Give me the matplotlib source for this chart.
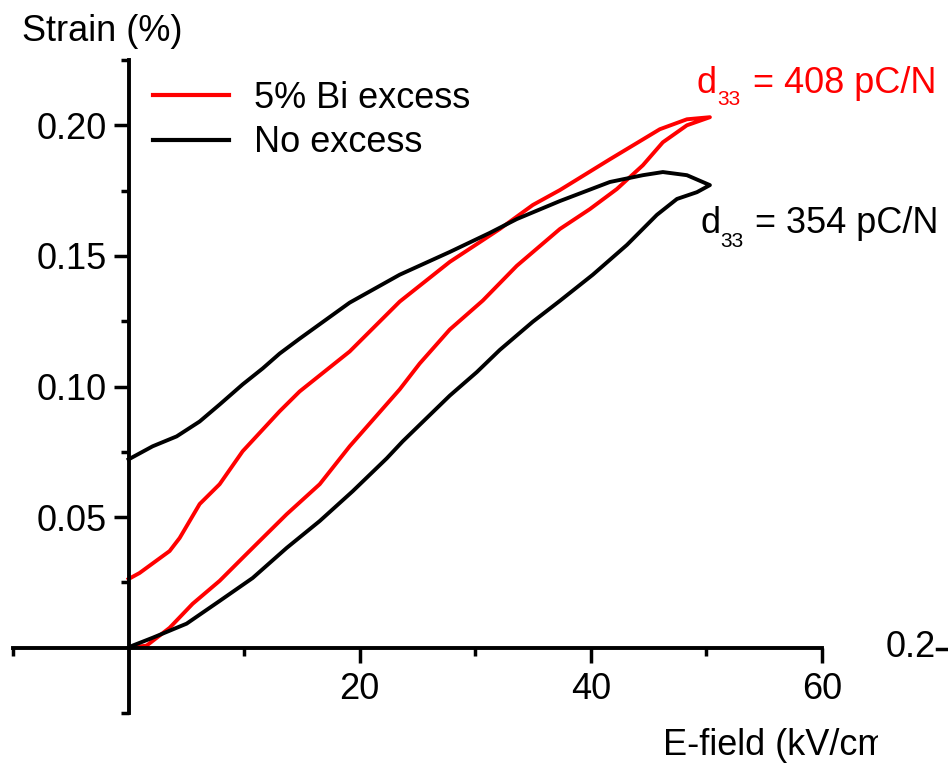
import matplotlib
matplotlib.use("Agg")
import matplotlib.pyplot as plt
from matplotlib.ticker import FixedLocator, NullFormatter
from matplotlib.transforms import Bbox
from matplotlib.lines import Line2D

plt.rcParams['font.family'] = ['Liberation Sans', 'DejaVu Sans']

# ---- data ----
bi_excess_field = [0.0, 0.95, 3.55, 4.42, 6.15, 7.88, 9.87, 13.07, 14.80, 19.13, 23.46,
                   27.79, 32.12, 34.98, 37.32, 41.65, 45.97, 48.31, 50.30,
                   48.31, 46.23, 44.50, 42.25, 39.91, 37.32, 33.59, 30.65, 27.79, 25.19,
                   23.46, 19.13, 16.54, 13.68, 11.60, 9.87, 7.88, 5.54, 3.55, 1.56, 0.09]
bi_excess_strain = [0.0263, 0.0286, 0.0370, 0.0420, 0.0550, 0.0626, 0.0752, 0.0905, 0.0981,
                    0.1134, 0.1325, 0.1477, 0.1603, 0.1695, 0.1752, 0.1870, 0.1985, 0.2023,
                    0.2031,
                    0.2000, 0.1935, 0.1847, 0.1756, 0.1679, 0.1603, 0.1462, 0.1329, 0.1218,
                    0.1088, 0.0989, 0.0771, 0.0626, 0.0511, 0.0420, 0.0344, 0.0256,
                    0.0168, 0.0076, 0.0008, 0.0]

no_excess_field = [0.0, 2.08, 4.16, 6.15, 7.88, 9.87, 11.60, 13.07, 14.80, 19.13, 23.46,
                   27.79, 31.25, 33.59, 37.32, 41.65, 44.50, 46.23, 48.31, 50.30,
                   49.18, 47.45, 45.71, 43.12, 40.17, 37.32, 34.98, 32.12, 30.13, 27.79,
                   23.72, 22.34, 19.39, 16.54, 13.68, 10.74, 7.88, 5.02, 2.08, 0.35, 0.0]
no_excess_strain = [0.0721, 0.0771, 0.0809, 0.0866, 0.0931, 0.1008, 0.1069, 0.1126, 0.1183,
                    0.1321, 0.1428, 0.1515, 0.1588, 0.1641, 0.1710, 0.1783, 0.1809, 0.1821,
                    0.1809, 0.1771,
                    0.1744, 0.1718, 0.1657, 0.1542, 0.1428, 0.1328, 0.1248, 0.1140, 0.1055,
                    0.0965, 0.0790, 0.0725, 0.0599, 0.0485, 0.0382, 0.0267, 0.0179, 0.0092,
                    0.0038, 0.0008, 0.0]

series_labels = ["5% Bi excess", "No excess"]
x_major = [20, 40, 60]
x_minor = [-10, 10, 30, 50]
y_major = [0.05, 0.10, 0.15, 0.20]
y_minor = [-0.025, 0.025, 0.075, 0.125, 0.175, 0.225]
y_major_labels = ["0.05", "0.10", "0.15", "0.20"]

W, H = 948, 763
fig = plt.figure(figsize=(W / 100, H / 100), dpi=100)
ax = fig.add_axes([13 / W, 1 - 713 / H, (822 - 13) / W, (713 - 60) / H])

ax.plot(bi_excess_field, bi_excess_strain, color='#ff0000', lw=2.8, label=series_labels[0],
        solid_joinstyle='round')
ax.plot(no_excess_field, no_excess_strain, color='black', lw=2.8, label=series_labels[1],
        solid_joinstyle='round')

ax.set_xlim(-10, 60)
ax.set_ylim(-0.025, 0.225)

for s in ['top', 'right']:
    ax.spines[s].set_visible(False)
ax.spines['left'].set_position(('data', 0))
ax.spines['bottom'].set_position(('data', 0))
for s in ['left', 'bottom']:
    ax.spines[s].set_linewidth(2.8)
    ax.spines[s].set_capstyle('projecting')

ax.xaxis.set_major_locator(FixedLocator(x_major))
ax.xaxis.set_minor_locator(FixedLocator(x_minor))
ax.yaxis.set_major_locator(FixedLocator(y_major))
ax.yaxis.set_minor_locator(FixedLocator(y_minor))
ax.set_yticklabels(y_major_labels)
ax.xaxis.set_minor_formatter(NullFormatter())
ax.yaxis.set_minor_formatter(NullFormatter())

ax.tick_params(which='major', direction='out', length=10.5, width=2.5, labelsize=26, pad=5)
ax.tick_params(which='minor', direction='out', length=5.8, width=2.5)
ax.tick_params(axis='x', which='major', pad=7)

leg = ax.legend(loc='upper left', bbox_to_anchor=(153 / W, 1 - 81 / H),
                bbox_transform=fig.transFigure, frameon=False, fontsize=26,
                handlelength=2.1, handletextpad=0.7, labelspacing=0.26,
                borderpad=0, borderaxespad=0)
for line in leg.get_lines():
    line.set_linewidth(3.0)

# axis titles placed as in the picture
fig.text(22 / W, 1 - 41 / H, "Strain (%)", fontsize=26, ha='left', va='baseline')
xl = fig.text(663 / W, 1 - 755 / H, "E-field (kV/cm)", fontsize=26, ha='left', va='baseline')
xl.set_clip_box(Bbox([[0, 0], [878, H]]))
xl.set_clip_on(True)

# d33 annotations
fig.text(697 / W, 1 - 93 / H, "d", fontsize=26, color='#ff0000', ha='left', va='baseline')
fig.text(717 / W, 1 - 105 / H, "33", fontsize=15, color='#ff0000', ha='left', va='baseline')
fig.text(753 / W, 1 - 93 / H, "= 408 pC/N", fontsize=26, color='#ff0000', ha='left', va='baseline')

fig.text(700 / W, 1 - 233 / H, "d", fontsize=26, color='black', ha='left', va='baseline')
fig.text(720 / W, 1 - 247 / H, "33", fontsize=15, color='black', ha='left', va='baseline')
fig.text(755 / W, 1 - 233 / H, "= 354 pC/N", fontsize=26, color='black', ha='left', va='baseline')

# fragment of the neighbouring panel at the right edge
fig.text(886 / W, 1 - 657 / H, "0.2", fontsize=26, ha='left', va='baseline')
fig.add_artist(Line2D([937 / W, 948 / W], [1 - 649 / H, 1 - 649 / H], color='black',
                      lw=2.5, transform=fig.transFigure))

fig.savefig("out.png", dpi=100)
